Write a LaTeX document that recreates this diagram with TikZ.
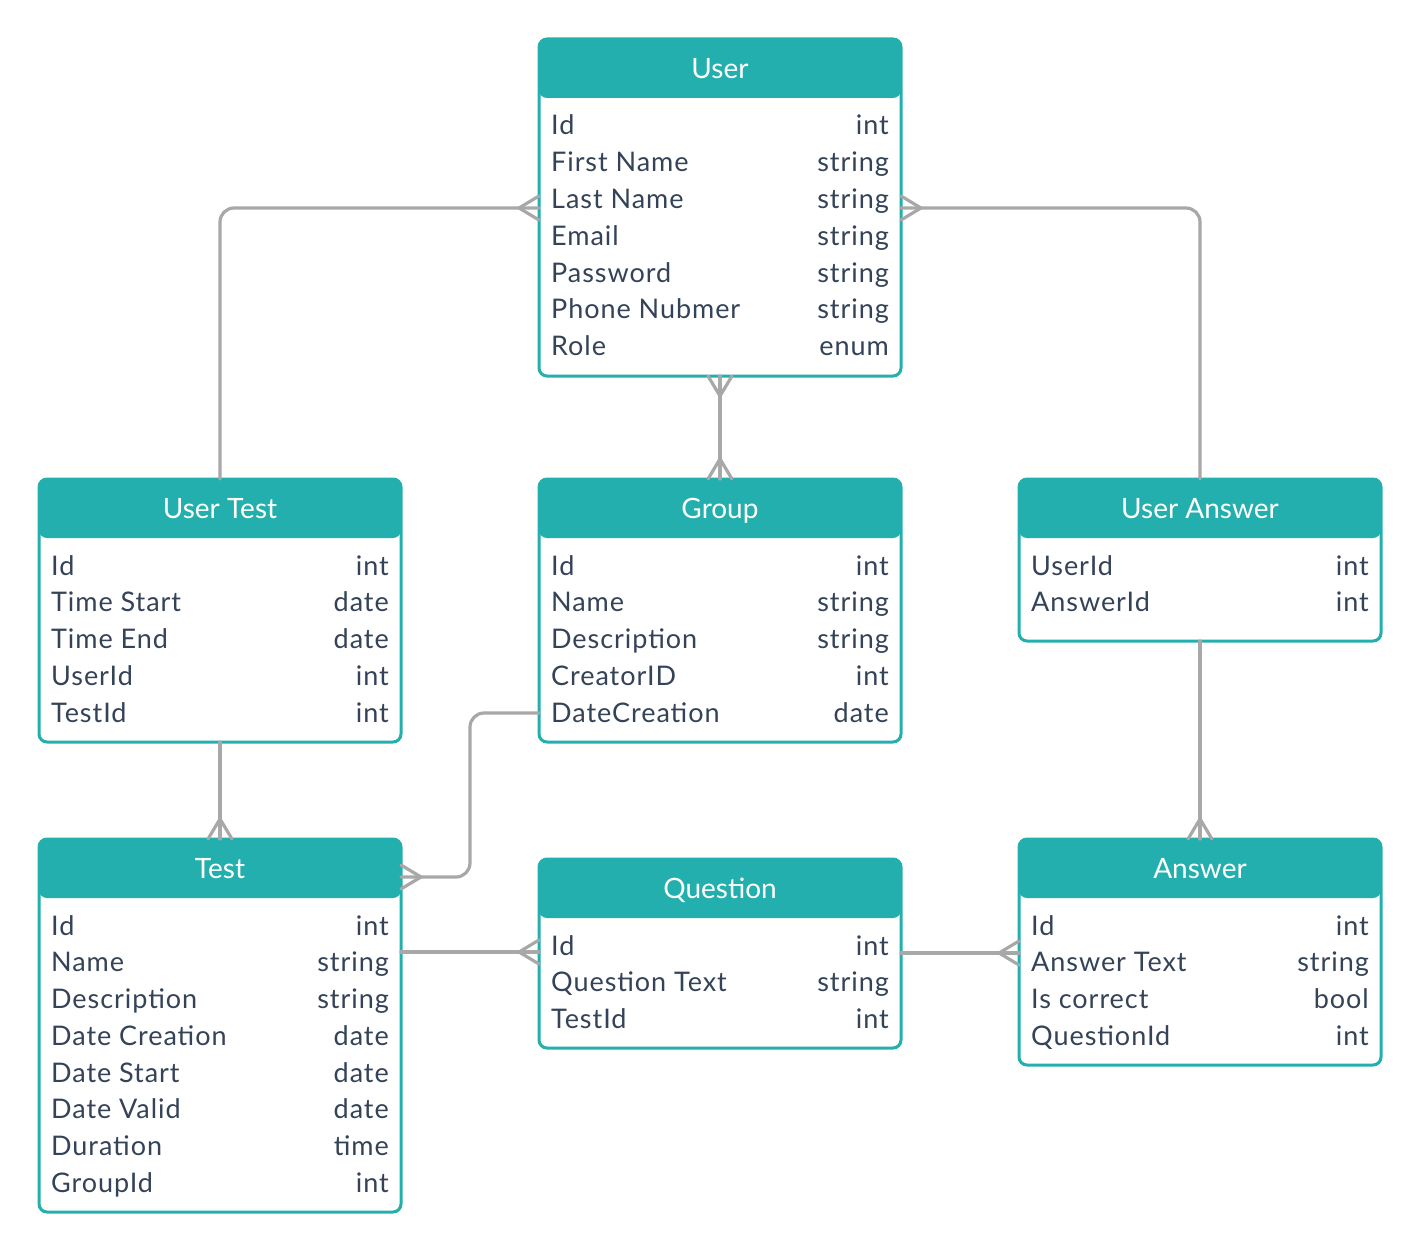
\documentclass[tikz,border=0pt]{standalone}
\usepackage{fontspec}
\setmainfont{Lato}
\newfontfamily\fieldfont[LetterSpace=3.5]{Lato}
\usepackage{tikz}
\usetikzlibrary{decorations.markings}
\definecolor{erteal}{RGB}{35,175,174}
\definecolor{erline}{RGB}{168,168,168}
\definecolor{ertext}{RGB}{52,67,88}
\tikzset{
    entity/.style={
        draw=erteal, line width=3pt, rounded corners=8pt, fill=white,
        minimum width=362pt, inner sep=0pt, outer sep=0pt, anchor=north west,
        path picture={
            \fill[erteal] (path picture bounding box.north west)
                rectangle ([yshift=-59pt]path picture bounding box.north east);
        }
    },
    entitytitle/.style={text=white, inner sep=0pt, anchor=base, font=\fontsize{28}{32}\selectfont},
    field/.style={text=ertext, inner sep=0pt, font=\fieldfont\fontsize{27}{32}\selectfont},
    conn/.style={draw=erline, line width=3.2pt, line cap=round, rounded corners=14pt},
    crowfoot/.style={draw=erline, line width=3.2pt, line cap=round, sharp corners},
    crow end/.style={
        postaction={
            decorate,decoration={
                markings,
                mark=at position 1 with {\draw[crowfoot] (0,12pt) -- (-20pt,0) -- (0,-12pt);}
            }
        }
    },
    crow start/.style={
        postaction={
            decorate,decoration={
                markings,
                mark=at position 0 with {\draw[crowfoot] (0,12pt) -- (20pt,0) -- (0,-12pt);}
            }
        }
    },
}
% name, x, y, height, title, rows
\newcommand{\erentity}[6]{%
    \node[entity, minimum height=#4pt] (#1) at (#2,#3) {};
    \node[entitytitle] (#1-t) at ([yshift=-39.5pt]#1.north) {#5};
    \foreach \l/\r [count=\i] in {#6} {
        \pgfmathsetmacro\dy{-96-36.75*(\i-1)}
        \node[field, anchor=base west] (#1-l\i) at ([xshift=12pt, yshift=\dy pt]#1.north west) {\l};
        \node[field, anchor=base east] (#1-r\i) at ([xshift=-12pt, yshift=\dy pt]#1.north east) {\r};
    }
}

\begin{document}
\begin{tikzpicture}[x=1pt, y=-1pt]
\useasboundingbox (0,0) rectangle (1420,1252);

\erentity{user}{539}{39}{337}{User}{Id/int, First Name/string, Last Name/string, Email/string, Password/string, Phone Nubmer/string, Role/enum}
\erentity{usertest}{39}{479}{263}{User Test}{Id/int, Time Start/date, Time End/date, UserId/int, TestId/int}
\erentity{group}{539}{479}{263}{Group}{Id/int, Name/string, Description/string, CreatorID/int, DateCreation/date}
\erentity{useranswer}{1019}{479}{162}{User Answer}{UserId/int, AnswerId/int}
\erentity{test}{39}{839}{373}{Test}{Id/int, Name/string, Description/string, Date Creation/date, Date Start/date, Date Valid/date, Duration/time, GroupId/int}
\erentity{question}{539}{859}{189}{Question}{Id/int, Question Text/string, TestId/int}
\erentity{answer}{1019}{839}{226}{Answer}{Id/int, Answer Text/string, Is correct/bool, QuestionId/int}

% connector ends on the sides
\coordinate (user-w) at ([yshift=-169pt]user.north west);
\coordinate (user-e) at ([yshift=-169pt]user.north east);
\coordinate (group-dc) at ([yshift=-234pt]group.north west);
\coordinate (test-g) at ([yshift=-38pt]test.north east);
\coordinate (test-q) at ([yshift=-113pt]test.north east);
\coordinate (question-t) at ([yshift=-93pt]question.north west);
\coordinate (question-a) at ([yshift=-94pt]question.north east);
\coordinate (answer-q) at ([yshift=-114pt]answer.north west);

\draw[conn, crow end] (usertest.north) |- (user-w);
\draw[conn, crow start] (user-e) -| (useranswer.north);
\draw[conn, crow start, crow end] (user.south) -- (group.north);
\draw[conn, crow end] (usertest.south) -- (test.north);
\draw[conn, crow end] (useranswer.south) -- (answer.north);
\draw[conn, crow end] (group-dc) -- ++(-69pt,0) |- (test-g);
\draw[conn, crow end] (test-q) -- (question-t);
\draw[conn, crow end] (question-a) -- (answer-q);
\end{tikzpicture}
\end{document}
